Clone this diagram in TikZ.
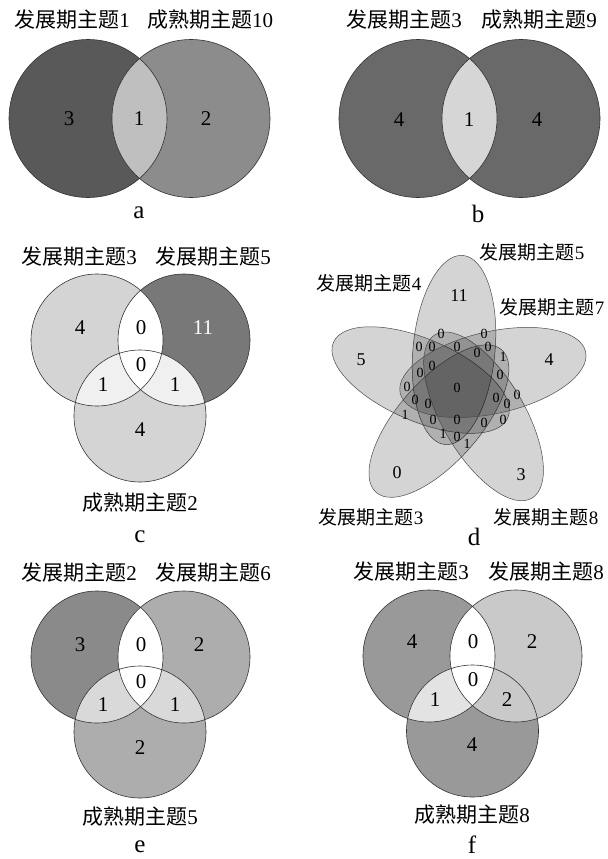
\documentclass[tikz,border=0pt]{standalone}
\usepackage{fontspec}
\setmainfont{Liberation Serif}
\newfontfamily\cjk{Noto Sans CJK SC}
\definecolor{aL}{gray}{0.35}
\definecolor{aR}{gray}{0.55}
\definecolor{aM}{gray}{0.75}
\definecolor{bC}{gray}{0.41}
\definecolor{bM}{gray}{0.84}
\definecolor{cLight}{gray}{0.83}
\definecolor{cDark}{gray}{0.47}
\definecolor{cPale}{gray}{0.94}
\definecolor{eDark}{gray}{0.54}
\definecolor{eMid}{gray}{0.68}
\definecolor{ePale}{gray}{0.85}
\definecolor{fDark}{gray}{0.60}
\definecolor{fLight}{gray}{0.79}
\definecolor{fPale}{gray}{0.89}

\begin{document}
\begin{tikzpicture}[x=1pt,y=-1pt,
    setlbl/.style={font=\fontsize{21}{21}\selectfont},
    numlbl/.style={font=\fontsize{21}{21}\selectfont},
    subcap/.style={font=\fontsize{25}{25}\selectfont, inner sep=0pt},
    dlbl/.style={font=\fontsize{19}{19}\selectfont},
    dnum/.style={font=\fontsize{14}{14}\selectfont, inner sep=0pt},
    ring/.style={draw=black!80, line width=0.6pt},
    petal/.style={fill=black, fill opacity=0.17, draw=black!70, draw opacity=1, line width=0.5pt}]
  \path[fill=white] (0,0) rectangle (604,859);

  % a
  \coordinate (a1) at (88,118.5);
  \coordinate (a2) at (191,118.5);
  \fill[aL] (a1) circle (79);
  \fill[aR] (a2) circle (79);
  \begin{scope}
    \clip (a1) circle (79);
    \fill[aM] (a2) circle (79);
  \end{scope}
  \draw[ring] (a1) circle (79) (a2) circle (79);
  \node[setlbl] (aT1) at (72,20) {{\cjk 发展期主题}1};
  \node[setlbl] (aT2) at (210,20) {{\cjk 成熟期主题}10};
  \node[numlbl] (aN1) at (69,119) {3};
  \node[numlbl] (aN2) at (139,119) {1};
  \node[numlbl] (aN3) at (206,119) {2};
  \node[subcap] (capA) at (139,213) {a};

  % b
  \coordinate (b1) at (418,118.5);
  \coordinate (b2) at (521,118.5);
  \fill[bC] (b1) circle (79) (b2) circle (79);
  \begin{scope}
    \clip (b1) circle (79);
    \fill[bM] (b2) circle (79);
  \end{scope}
  \draw[ring] (b1) circle (79) (b2) circle (79);
  \node[setlbl] (bT1) at (404,20) {{\cjk 发展期主题}3};
  \node[setlbl] (bT2) at (539,20) {{\cjk 成熟期主题}9};
  \node[numlbl] (bN1) at (399,120) {4};
  \node[numlbl] (bN2) at (469,120) {1};
  \node[numlbl] (bN3) at (537,120) {4};
  \node[subcap] (capB) at (478,214) {b};

  % c
  \coordinate (c1) at (97,340);
  \coordinate (c2) at (184,340);
  \coordinate (c3) at (140,416);
  \fill[cLight] (c1) circle (66);
  \fill[cDark] (c2) circle (66);
  \fill[cLight] (c3) circle (66);
  \begin{scope}
    \clip (c3) circle (66);
    \fill[cPale] (c1) circle (66) (c2) circle (66);
  \end{scope}
  \begin{scope}
    \clip (c1) circle (66);
    \fill[white] (c2) circle (66);
  \end{scope}
  \draw[ring] (c1) circle (66) (c2) circle (66) (c3) circle (66);
  \node[setlbl] (cT1) at (79,257) {{\cjk 发展期主题}3};
  \node[setlbl] (cT2) at (213,257) {{\cjk 发展期主题}5};
  \node[setlbl] (cT3) at (140,503) {{\cjk 成熟期主题}2};
  \node[numlbl] (cN1) at (80,328) {4};
  \node[numlbl] (cN2) at (141,328) {0};
  \node[numlbl, white] (cN3) at (203,328) {11};
  \node[numlbl] (cN4) at (141,365) {0};
  \node[numlbl] (cN5) at (103,385) {1};
  \node[numlbl] (cN6) at (175,385) {1};
  \node[numlbl] (cN7) at (140,430) {4};
  \node[subcap] (capC) at (140,537) {c};

  % d
  \begin{scope}[shift={(458,388)},y=1pt]
    \foreach \k in {0,...,4}
      \filldraw[petal, shift={(96+72*\k:38.2)}, rotate=84.6+72*\k] (0,0) ellipse [x radius=95, y radius=41];
  \end{scope}
  \node[dlbl] (dT5) at (532,252) {{\cjk 发展期主题}5};
  \node[dlbl] (dT4) at (369,283) {{\cjk 发展期主题}4};
  \node[dlbl] (dT7) at (552,307) {{\cjk 发展期主题}7};
  \node[dlbl] (dT3) at (371,517) {{\cjk 发展期主题}3};
  \node[dlbl] (dT8) at (546,517) {{\cjk 发展期主题}8};
  \node[numlbl, font=\fontsize{18}{18}\selectfont] (dO1) at (459,296) {11};
  \node[numlbl, font=\fontsize{18}{18}\selectfont] (dO2) at (549,360) {4};
  \node[numlbl, font=\fontsize{18}{18}\selectfont] (dO3) at (521,475) {3};
  \node[numlbl, font=\fontsize{18}{18}\selectfont] (dO4) at (397,473) {0};
  \node[numlbl, font=\fontsize{18}{18}\selectfont] (dO5) at (361,360) {5};
  \foreach \x/\y/\t [count=\i] in {441/334/0, 484/334/0, 419/347/0, 432/347/0, 457/347/0,
      477/353/0, 488/347/0, 503/357/1, 420/373/0, 432/366/0, 500/375/0, 407/387/0,
      457/388/0, 415/400/0, 428/404/0, 496/398/0, 507/404/0, 517/395/0, 405/415/1,
      433/420/0, 457/420/0, 484/423/0, 503/420/0, 443/434/1, 457/437/0, 467/444/1}
    \node[dnum] (dN\i) at (\x,\y) {\t};
  \node[subcap] (capD) at (474,537) {d};

  % e
  \coordinate (e1) at (97,657);
  \coordinate (e2) at (184,657);
  \coordinate (e3) at (140,732);
  \fill[eDark] (e1) circle (66);
  \fill[eMid] (e2) circle (66);
  \fill[eMid] (e3) circle (66);
  \begin{scope}
    \clip (e3) circle (66);
    \fill[ePale] (e1) circle (66) (e2) circle (66);
  \end{scope}
  \begin{scope}
    \clip (e1) circle (66);
    \fill[white] (e2) circle (66);
  \end{scope}
  \draw[ring] (e1) circle (66) (e2) circle (66) (e3) circle (66);
  \node[setlbl] (eT1) at (79,573) {{\cjk 发展期主题}2};
  \node[setlbl] (eT2) at (213,573) {{\cjk 发展期主题}6};
  \node[setlbl] (eT3) at (140,817) {{\cjk 成熟期主题}5};
  \node[numlbl] (eN1) at (80,645) {3};
  \node[numlbl] (eN2) at (141,645) {0};
  \node[numlbl] (eN3) at (199,645) {2};
  \node[numlbl] (eN4) at (141,682) {0};
  \node[numlbl] (eN5) at (103,705) {1};
  \node[numlbl] (eN6) at (175,705) {1};
  \node[numlbl] (eN7) at (140,748) {2};
  \node[subcap] (capE) at (140,847) {e};

  % f
  \coordinate (f1) at (429,656);
  \coordinate (f2) at (516,656);
  \coordinate (f3) at (472.5,731);
  \fill[fDark] (f1) circle (66);
  \fill[fLight] (f2) circle (66);
  \fill[fDark] (f3) circle (66);
  \begin{scope}
    \clip (f3) circle (66);
    \fill[fPale] (f1) circle (66);
    \fill[fLight] (f2) circle (66);
  \end{scope}
  \begin{scope}
    \clip (f1) circle (66);
    \fill[white] (f2) circle (66);
  \end{scope}
  \draw[ring] (f1) circle (66) (f2) circle (66) (f3) circle (66);
  \node[setlbl] (fT1) at (411,572) {{\cjk 发展期主题}3};
  \node[setlbl] (fT2) at (546,572) {{\cjk 发展期主题}8};
  \node[setlbl] (fT3) at (472,815) {{\cjk 成熟期主题}8};
  \node[numlbl] (fN1) at (412,642) {4};
  \node[numlbl] (fN2) at (473,642) {0};
  \node[numlbl] (fN3) at (532,642) {2};
  \node[numlbl] (fN4) at (473,680) {0};
  \node[numlbl] (fN5) at (435,700) {1};
  \node[numlbl] (fN6) at (507,700) {2};
  \node[numlbl] (fN7) at (472,745) {4};
  \node[subcap] (capF) at (472,845) {f};
\end{tikzpicture}
\end{document}
